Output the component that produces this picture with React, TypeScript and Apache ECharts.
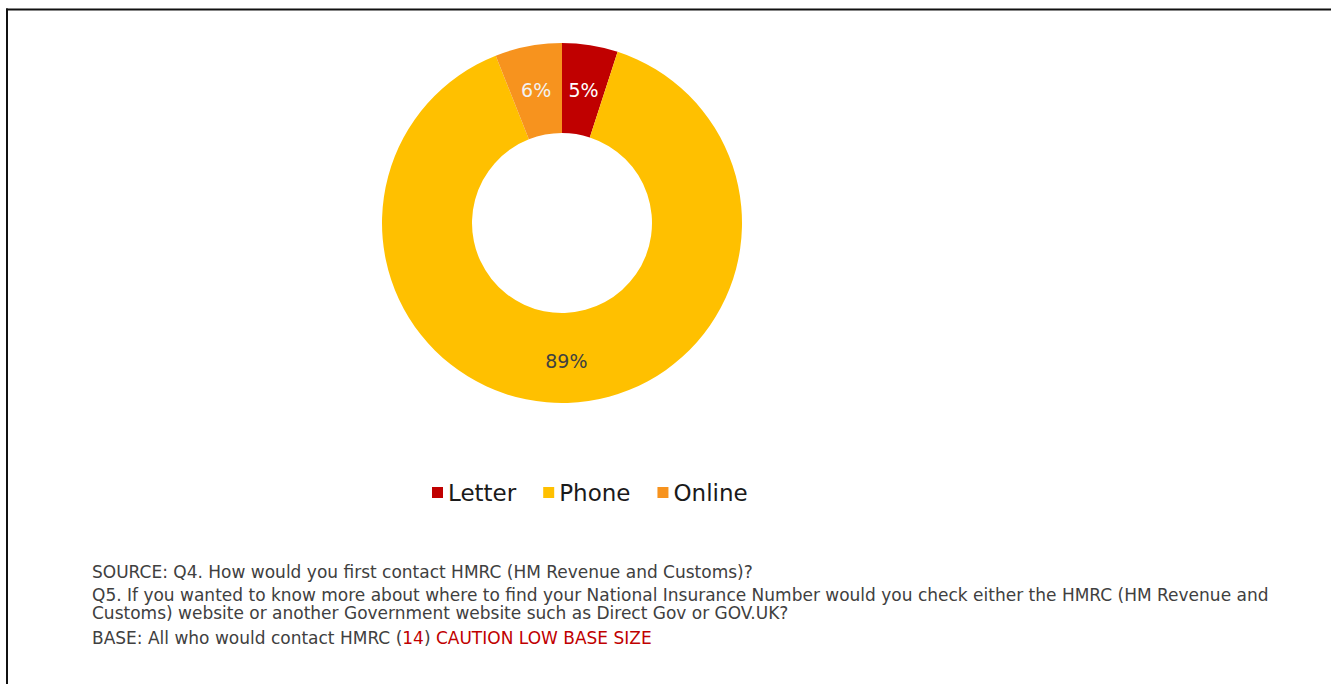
import React, { useEffect, useRef } from "react";
import * as echarts from "echarts";

const categories = ["Letter", "Phone", "Online"];
const values = [5, 89, 6];
const colors = ["#C00000", "#FFC000", "#F7931E"];
const labelColors = ["#FFFFFF", "#404040", "#F2F2F2"];

const noteLines = [
  "SOURCE: Q4. How would you first contact HMRC (HM Revenue and Customs)?",
  "Q5. If you wanted to know more about where to find your National Insurance Number would you check either the HMRC (HM Revenue and",
  "Customs) website or another Government website such as Direct Gov or GOV.UK?",
];
const baseText = "BASE: All who would contact HMRC (";
const baseCount = "14";
const cautionText = "CAUTION LOW BASE SIZE";

export default function App() {
  const ref = useRef<HTMLDivElement>(null);
  useEffect(() => {
    if (!ref.current) return;
    const chart = echarts.init(ref.current, null, { renderer: "svg" });
    const font = "DejaVu Sans, Verdana, sans-serif";
    const noteY = [573, 596, 614];
    const fs = 17;
    chart.setOption({
      animation: false,
      backgroundColor: "#ffffff",
      legend: {
        data: categories,
        left: 427,
        top: 476,
        itemWidth: 11,
        itemHeight: 11,
        itemGap: 27,
        icon: "rect",
        textStyle: { fontSize: 23, color: "#1a1a1a", fontFamily: font, padding: [0, 0, 0, 0] },
      },
      series: [
        {
          type: "pie",
          center: [562, 223],
          radius: [90, 180],
          startAngle: 90,
          clockwise: true,
          avoidLabelOverlap: false,
          label: {
            show: true,
            position: "inside",
            fontSize: 19,
            fontFamily: font,
            formatter: (p: any) => p.value + "%",
          },
          labelLine: { show: false },
          emphasis: { disabled: true },
          data: categories.map((c, i) => ({
            name: c,
            value: values[i],
            itemStyle: { color: colors[i] },
            label: { color: labelColors[i], offset: i === 1 ? [0, 0] : [0, 3] },
          })),
        },
      ],
      graphic: [
        { type: "line", shape: { x1: 6, y1: 9.5, x2: 1331, y2: 9.5 }, style: { stroke: "#111", lineWidth: 2 } },
        { type: "line", shape: { x1: 7, y1: 8.5, x2: 7, y2: 684 }, style: { stroke: "#111", lineWidth: 2 } },
        ...noteLines.map((t, i) => ({
          type: "text",
          left: 92,
          top: noteY[i] - 10,
          style: { text: t, fontSize: fs, fontFamily: font, fill: "#404040" },
        })),
        {
          type: "text",
          left: 92,
          top: 639 - 10,
          style: {
            text: "{a|" + baseText + "}{r|" + baseCount + "}{a|) }{r|" + cautionText + "}",
            fontSize: fs,
            fontFamily: font,
            rich: {
              a: { fontSize: fs, fontFamily: font, fill: "#404040", color: "#404040" },
              r: { fontSize: fs, fontFamily: font, fill: "#C00000", color: "#C00000" },
            },
          },
        },
      ],
    });
    return () => chart.dispose();
  }, []);
  return (
    <div
      ref={ref}
      style={{ position: "absolute", left: 0, top: 0, width: 1331, height: 684, background: "#fff" }}
    />
  );
}
